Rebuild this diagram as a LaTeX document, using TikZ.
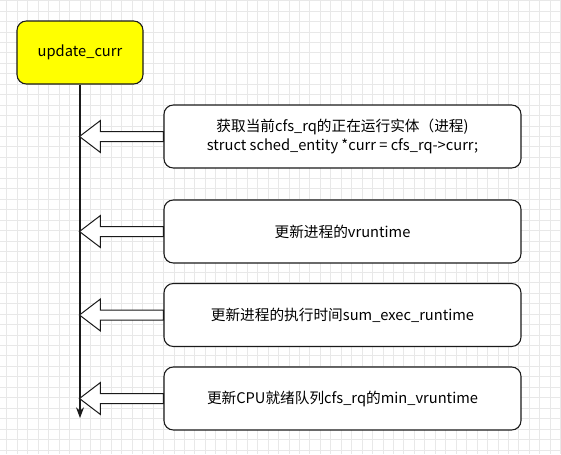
\documentclass[tikz,border=0pt]{standalone}
\usepackage{fontspec}
\setmainfont{Noto Sans CJK SC}
\usepackage{tikz}
\usetikzlibrary{arrows.meta,positioning,calc}
\definecolor{ink}{HTML}{1A1A1A}
\definecolor{gridgray}{HTML}{E8E8E8}
\definecolor{hilite}{HTML}{FFFF00}
\tikzset{
  startbox/.style={
    draw=ink, fill=hilite, line width=0.8pt, rounded corners=7pt,
    minimum width=94.5pt, minimum height=47.25pt, align=center,
    font=\fontsize{11}{14}\selectfont
  },
  stepcard/.style={
    draw=ink, fill=white, line width=0.8pt, rounded corners=7pt,
    minimum width=267.75pt, minimum height=47.25pt, align=center, inner sep=0pt,
    font=\fontsize{11}{14}\selectfont
  },
  fatarrow/.style={draw=ink, fill=white, line width=0.75pt, line join=miter},
  gridline/.style={draw=gridgray, line width=0.5pt}
}
\newcommand{\fatarrowto}[1]{%
  \draw[fatarrow] ($(#1.west)+(0,-5)$) -- ++(-63,0) -- ++(0,-11) -- ++(-21,16)
    -- ++(21,16) -- ++(0,-11) -- ++(63,0) -- cycle;}
\begin{document}
\begin{tikzpicture}[x=0.75pt,y=-0.75pt]
  \useasboundingbox (0,0) rectangle (561,454);
  % background grid
  \foreach \gx in {0,...,53} \draw[gridline] (6.7+\gx*10.45,0) -- ++(0,454);
  \foreach \gy in {0,...,43} \draw[gridline] (0,0.5+\gy*10.45) -- ++(561,0);

  \node[startbox] (upd) at (80,52.5) {update\_curr};

  \node[stepcard] (s1) at (342.5,136.5) {获取当前cfs\_rq的正在运行实体（进程)\\struct sched\_entity *curr = cfs\_rq->curr;};
  \node[stepcard] (s2) at (342.5,231.5) {更新进程的vruntime};
  \node[stepcard] (s3) at (342.5,315) {更新进程的执行时间sum\_exec\_runtime};
  \node[stepcard] (s4) at (342.5,398.5) {更新CPU就绪队列cfs\_rq的min\_vruntime};

  \coordinate (tail) at (80,418);
  \draw[ink, line width=0.8pt, -{Stealth[length=8pt,width=6pt]}] (upd.south) -- (tail);

  \foreach \s in {s1,s2,s3,s4} {\fatarrowto{\s}}
\end{tikzpicture}
\end{document}
